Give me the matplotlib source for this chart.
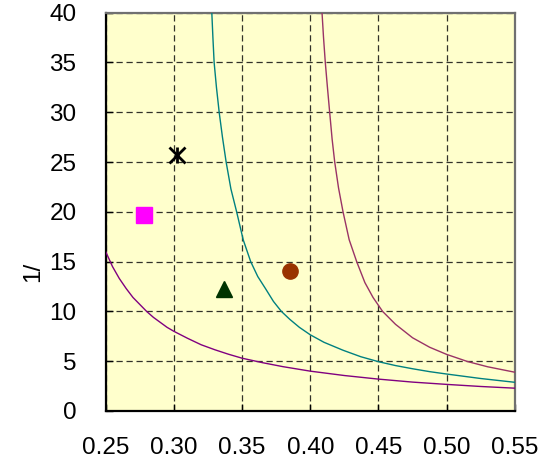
import matplotlib
matplotlib.use("Agg")
import matplotlib.pyplot as plt

plt.rcParams["font.family"] = ["Liberation Sans", "DejaVu Sans"]

# curves
low_x = [0.250, 0.255, 0.260, 0.265, 0.270, 0.275, 0.280, 0.285, 0.290, 0.295,
         0.300, 0.310, 0.320, 0.330, 0.340, 0.350, 0.365, 0.380, 0.400, 0.425,
         0.450, 0.475, 0.500, 0.525, 0.550]
low_y = [16.0, 14.5, 13.3, 12.3, 11.4, 10.7, 10.0, 9.4, 8.9, 8.4,
         8.0, 7.3, 6.65, 6.15, 5.7, 5.3, 4.85, 4.45, 4.0, 3.56,
         3.2, 2.9, 2.67, 2.46, 2.29]

teal_x = [0.3278, 0.3286, 0.3295, 0.3312, 0.3332, 0.3356, 0.3383, 0.3418,
          0.3460, 0.3508, 0.3563, 0.3615, 0.3671, 0.3730, 0.3788, 0.3850,
          0.3920, 0.4000, 0.4100, 0.4240, 0.4370, 0.4500, 0.4625, 0.4750,
          0.4875, 0.5000, 0.5250, 0.5500]
teal_y = [40.0, 37.5, 35.0, 32.5, 30.0, 27.5, 25.0, 22.3,
          20.0, 17.2, 15.0, 13.5, 12.3, 11.0, 10.0, 9.2,
          8.4, 7.65, 6.9, 6.1, 5.45, 4.95, 4.56, 4.24,
          3.95, 3.71, 3.26, 2.88]

high_x = [0.4086, 0.4097, 0.4110, 0.4125, 0.4142, 0.4160, 0.4179, 0.4207,
          0.4240, 0.4285, 0.4340, 0.4400, 0.4460, 0.4530, 0.4625, 0.4750,
          0.4875, 0.5000, 0.5154, 0.5300, 0.5500]
high_y = [40.0, 37.5, 35.0, 32.6, 30.0, 27.3, 25.0, 22.4,
          20.0, 17.2, 15.0, 12.9, 11.4, 10.0, 8.7, 7.35,
          6.4, 5.68, 4.96, 4.44, 3.89]

# single points
star_x, star_y = [0.302], [25.7]
square_x, square_y = [0.278], [19.7]
tri_x, tri_y = [0.337], [12.2]
circ_x, circ_y = [0.385], [14.1]

x_ticks = [0.25, 0.30, 0.35, 0.40, 0.45, 0.50, 0.55]
y_ticks = [0, 5, 10, 15, 20, 25, 30, 35, 40]

fig = plt.figure(figsize=(5.42, 4.69), dpi=100)
ax = fig.add_axes([0.195, 0.1237, 0.755, 0.8493])
ax.set_facecolor("#FFFFCC")

ax.plot(low_x, low_y, color="#800080", lw=1.0, zorder=3)
ax.plot(teal_x, teal_y, color="#008080", lw=1.0, zorder=3)
ax.plot(high_x, high_y, color="#993366", lw=1.0, zorder=3)

ax.plot(star_x, star_y, "x", color="black", ms=11, mew=2, zorder=4)
ax.plot(star_x, star_y, "|", color="black", ms=12, mew=2, zorder=4)
ax.plot(square_x, square_y, "s", color="#FF00FF", ms=11, zorder=4)
ax.plot(tri_x, tri_y, "^", color="#003300", ms=11, zorder=4)
ax.plot(circ_x, circ_y, "o", color="#993300", ms=11, zorder=4)

ax.set_xlim(0.25, 0.55)
ax.set_ylim(0, 40)
ax.set_xticks(x_ticks)
ax.set_yticks(y_ticks)
ax.set_xticklabels([f"{v:.2f}" for v in x_ticks])
ax.tick_params(direction="in", length=5, width=1, labelsize=17.5, colors="black")
ax.tick_params(axis="x", pad=19)
ax.tick_params(axis="y", pad=21)

ax.grid(True, color="black", lw=0.9, linestyle=(0, (5, 3)), alpha=0.8)
ax.set_axisbelow(True)

for s in ("left", "bottom"):
    ax.spines[s].set_color("black")
    ax.spines[s].set_linewidth(1.6)
for s in ("top", "right"):
    ax.spines[s].set_color("#707070")
    ax.spines[s].set_linewidth(1.6)

ax.set_ylabel("1/", fontsize=17.5)
ax.yaxis.set_label_coords(-0.15, 0.35)

fig.savefig("out.png", dpi=100)
